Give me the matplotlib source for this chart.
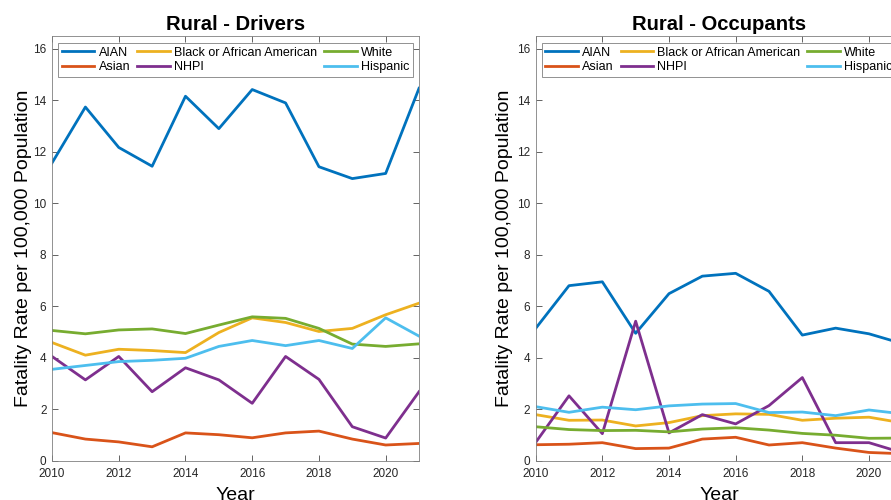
import matplotlib
matplotlib.use('Agg')
import matplotlib.pyplot as plt

years = list(range(2010, 2022))
groups = ['AIAN', 'Asian', 'Black or African American', 'NHPI', 'White', 'Hispanic']
colors = ['#0072BD', '#D95319', '#EDB120', '#7E2F8E', '#77AC30', '#4DBEEE']

# Rural - Drivers
drv_aian = [11.57, 13.74, 12.17, 11.44, 14.16, 12.90, 14.42, 13.90, 11.42, 10.96, 11.16, 14.47]
drv_asian = [1.09, 0.84, 0.73, 0.54, 1.08, 1.01, 0.89, 1.08, 1.15, 0.84, 0.61, 0.67]
drv_black = [4.59, 4.10, 4.33, 4.28, 4.20, 4.98, 5.55, 5.37, 5.02, 5.14, 5.67, 6.12]
drv_nhpi = [4.05, 3.14, 4.05, 2.68, 3.61, 3.14, 2.23, 4.05, 3.16, 1.32, 0.88, 2.68]
drv_white = [5.06, 4.93, 5.08, 5.12, 4.94, 5.27, 5.59, 5.53, 5.14, 4.53, 4.44, 4.54]
drv_hisp = [3.55, 3.70, 3.85, 3.90, 3.98, 4.44, 4.67, 4.47, 4.67, 4.36, 5.55, 4.84]

# Rural - Occupants
occ_aian = [5.14, 6.80, 6.95, 4.95, 6.49, 7.17, 7.28, 6.58, 4.88, 5.15, 4.93, 4.55]
occ_asian = [0.62, 0.64, 0.70, 0.47, 0.49, 0.84, 0.91, 0.61, 0.70, 0.49, 0.32, 0.27]
occ_black = [1.79, 1.57, 1.58, 1.35, 1.48, 1.75, 1.82, 1.80, 1.57, 1.65, 1.69, 1.47]
occ_nhpi = [0.71, 2.52, 1.05, 5.42, 1.08, 1.79, 1.43, 2.14, 3.23, 0.70, 0.70, 0.31]
occ_white = [1.32, 1.21, 1.17, 1.18, 1.12, 1.23, 1.28, 1.19, 1.06, 0.99, 0.87, 0.88]
occ_hisp = [2.10, 1.88, 2.08, 1.98, 2.13, 2.20, 2.22, 1.87, 1.89, 1.75, 1.97, 1.82]

panels = [
    ('Rural - Drivers', [drv_aian, drv_asian, drv_black, drv_nhpi, drv_white, drv_hisp]),
    ('Rural - Occupants', [occ_aian, occ_asian, occ_black, occ_nhpi, occ_white, occ_hisp]),
]

plt.rcParams['font.family'] = ['Liberation Sans', 'DejaVu Sans']

fig = plt.figure(figsize=(8.91, 5.0), dpi=100)
# the right panel runs past the figure edge, as in the original screenshot
positions = [[0.0584, 0.0786, 0.4119, 0.8494], [0.6012, 0.0786, 0.4115, 0.8494]]
ylabel_x = [-0.054, -0.062]
axis_gray = '#262626'

for pos, lx, (title, series) in zip(positions, ylabel_x, panels):
    ax = fig.add_axes(pos)
    for vals, name, c in zip(series, groups, colors):
        ax.plot(years, vals, color=c, lw=2, label=name)

    ax.set_xlim(2010, 2021)
    ax.set_ylim(0, 16.5)
    ax.set_xticks(range(2010, 2021, 2))
    ax.set_yticks(range(0, 17, 2))
    ax.tick_params(direction='in', top=True, right=True, length=4, width=0.5,
                   labelsize=8.5, colors=axis_gray)
    ax.tick_params(axis='x', pad=5)
    ax.tick_params(axis='y', pad=4)
    for sp in ax.spines.values():
        sp.set_color('#808080')
        sp.set_linewidth(0.6)

    ax.set_title(title, fontsize=14.6, fontweight='bold', pad=4)
    ax.set_ylabel('Fatality Rate per 100,000 Population', fontsize=14)
    ax.yaxis.set_label_coords(lx, 0.5)
    ax.set_xlabel('Year', fontsize=14)
    ax.xaxis.set_label_coords(0.5, -0.063)

    leg = ax.legend(ncol=3, loc='upper left', bbox_to_anchor=(0.016, 0.984, 0.968, 0.0),
                    mode='expand', fontsize=9, handlelength=2.6, handletextpad=0.35,
                    columnspacing=0.8, labelspacing=0.2, borderpad=0.3,
                    fancybox=False, framealpha=1, edgecolor='#808080', borderaxespad=0)
    leg.get_frame().set_linewidth(0.6)

plt.savefig('out.png', dpi=100)
